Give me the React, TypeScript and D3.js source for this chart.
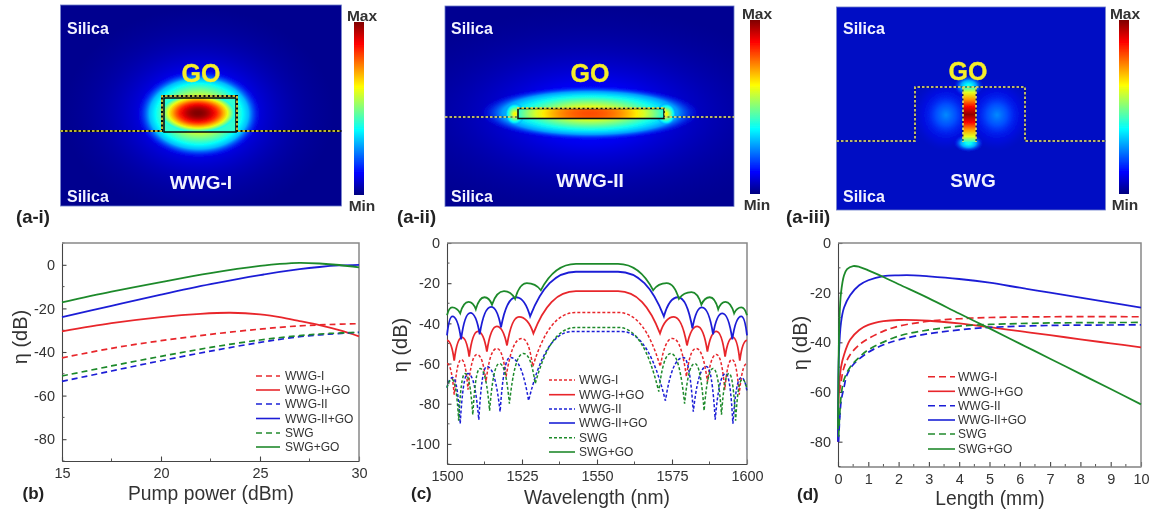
import React, { useEffect, useRef } from "react";
import * as d3 from "d3";

type Pt = [number, number];

const seriesNames = ["WWG-I", "WWG-I+GO", "WWG-II", "WWG-II+GO", "SWG", "SWG+GO"];
const seriesColors = ["#e8262c", "#e8262c", "#1c1fd6", "#1c1fd6", "#1f8a2c", "#1f8a2c"];

// (b) pump power sweep
const pumpWwg1: Pt[] = [[15, -42.7], [17.5, -38.3], [20, -34.8], [22.5, -31.9], [25, -29.5], [27, -28], [28.5, -27.4], [30, -27]];
const pumpWwg1Go: Pt[] = [[15, -30.5], [17.5, -26.8], [20, -24], [22, -22.5], [23.5, -22], [25, -22.7], [26, -24], [27, -25.8], [28, -27.7], [29, -30], [30, -32.8]];
const pumpWwg2: Pt[] = [[15, -53.5], [17.5, -48.7], [20, -44], [22.5, -39.6], [25, -35.6], [27, -33], [28.5, -31.8], [30, -31]];
const pumpWwg2Go: Pt[] = [[15, -24], [17.5, -18.8], [20, -13.7], [22.5, -8.9], [25, -4.7], [27, -2], [28, -1], [29, -0.3], [30, 0]];
const pumpSwg: Pt[] = [[15, -51], [17.5, -46.4], [20, -42], [22.5, -37.9], [25, -34.5], [27, -32.5], [28.5, -31.5], [30, -31]];
const pumpSwgGo: Pt[] = [[15, -17.2], [17.5, -12.3], [20, -7.9], [22.5, -3.8], [25, -0.5], [26, 0.4], [27, 0.9], [28, 0.6], [29, -0.1], [30, -1.2]];

// (c) wavelength sweep: nulls and lobe tops
const waveWwg1: Pt[] = [[1500, -60], [1502.4, -75.5], [1504.8, -58], [1507, -73], [1510, -55.5], [1513, -69], [1516.6, -52.5], [1519.7, -66.5], [1525, -47.5], [1528.6, -61.5], [1543, -34.6], [1557, -34.6], [1571.1, -61.5], [1575.2, -47.5], [1579.8, -66.5], [1583, -52.5], [1586.8, -69], [1589.8, -55.5], [1592.6, -73], [1595, -58], [1597.4, -75.5], [1600, -60]];
const waveWwg1Go: Pt[] = [[1500, -48.5], [1502.4, -58.5], [1505, -47], [1507.4, -56.5], [1510.3, -44], [1513.3, -54], [1516.6, -41.5], [1520, -51], [1524, -36.8], [1528.8, -45], [1543, -24], [1557, -24], [1571, -45], [1575.6, -36.8], [1580, -51], [1583.4, -41.5], [1586.8, -54], [1589.8, -44], [1592.7, -56.5], [1595.3, -47], [1597.6, -58.5], [1600, -48.5]];
const waveWwg2: Pt[] = [[1500, -72], [1501.9, -67], [1504.4, -90], [1507, -65], [1510.6, -88], [1513.3, -61.5], [1517.7, -84], [1521, -57], [1527.2, -78.5], [1542, -44], [1558, -44], [1572.8, -78.5], [1578.8, -57], [1582.1, -84], [1586.5, -61.5], [1589.4, -88], [1592.9, -65], [1595.3, -90], [1598.1, -67], [1600, -74]];
const waveWwg2Go: Pt[] = [[1500, -46], [1501.8, -36.5], [1504.7, -48], [1507.8, -34.8], [1510.9, -45.5], [1514.7, -31.8], [1518, -42], [1523, -27], [1527.7, -36.5], [1543, -14.3], [1557, -14.3], [1572.3, -36.5], [1577, -27], [1581.8, -42.5], [1585, -32], [1588.7, -45.5], [1591.8, -35], [1595.1, -48], [1598.1, -36.5], [1600, -46]];
const waveSwg: Pt[] = [[1500, -72], [1501.7, -68], [1503.9, -88.5], [1506, -65], [1508.6, -85.5], [1511, -62.5], [1514.2, -83.5], [1517.5, -60], [1520.8, -80], [1525.5, -55], [1529.4, -70], [1543, -42], [1557, -42], [1570.6, -74], [1574.6, -55], [1579.2, -80], [1582.6, -60], [1585.7, -83.5], [1588.7, -62.5], [1591.5, -85.5], [1594, -65], [1596.2, -88.5], [1598.4, -68], [1600, -73]];
const waveSwgGo: Pt[] = [[1500, -36], [1501.7, -32], [1504.4, -35], [1507.2, -29.3], [1509.6, -33], [1512.5, -27], [1515, -30.7], [1519, -24], [1522.7, -27.8], [1526.6, -20], [1531.3, -23.5], [1543, -10.4], [1557, -10.4], [1568.7, -23.5], [1573.2, -20], [1577.3, -27.8], [1581.5, -24.5], [1584.8, -30.7], [1587.6, -27], [1590.4, -33], [1592.8, -29.3], [1595.7, -35], [1598.1, -32], [1600, -36]];

// (d) length sweep
const lenWwg1: Pt[] = [[0.05, -60], [0.1, -56], [0.2, -50], [0.4, -45], [0.7, -41], [1, -38.5], [1.5, -35.5], [2, -33.5], [3, -31.5], [4, -30.5], [5, -30], [7, -29.7], [10, -29.7]];
const lenWwg1Go: Pt[] = [[0, -80], [0.03, -60], [0.1, -50], [0.2, -45], [0.4, -39], [0.7, -35], [1, -33], [1.5, -31.5], [2, -31], [3, -31.3], [4, -32.4], [5, -33.9], [6, -35.5], [7, -37.1], [8, -38.8], [9, -40.4], [10, -42]];
const lenWwg2: Pt[] = [[0.02, -80], [0.1, -64], [0.2, -58], [0.3, -53], [0.5, -49], [1, -44], [1.5, -41], [2, -39], [3, -36.5], [4, -35], [5, -34], [7, -33.2], [10, -33]];
const lenWwg2Go: Pt[] = [[0, -80], [0.03, -45], [0.1, -32], [0.2, -26], [0.4, -21], [0.7, -17], [1, -15], [1.5, -13.3], [2, -13], [2.5, -13], [3, -13.4], [4, -14.5], [5, -16], [6, -18], [7, -20], [8, -22], [9, -24], [10, -26]];
const lenSwg: Pt[] = [[0.02, -78], [0.1, -62], [0.2, -55], [0.4, -50], [0.7, -46], [1, -43], [2, -37.5], [3, -35], [4, -33.5], [5, -32.8], [7, -32.2], [10, -32]];
const lenSwgGo: Pt[] = [[0, -75], [0.05, -30], [0.1, -20], [0.2, -13], [0.3, -10.5], [0.5, -9.3], [0.7, -9.6], [1, -11], [1.5, -13.7], [2, -16.6], [3, -22.3], [4, -28.4], [5, -34.4], [6, -40.5], [7, -46.6], [8, -52.7], [9, -58.8], [10, -65]];

const xTicksB = [15, 20, 25, 30];
const yTicksB = [0, -20, -40, -60, -80];
const xTicksC = [1500, 1525, 1550, 1575, 1600];
const yTicksC = [0, -20, -40, -60, -80, -100];
const xTicksD = [0, 1, 2, 3, 4, 5, 6, 7, 8, 9, 10];
const yTicksD = [0, -20, -40, -60, -80];

const jetStops = [0, 0.125, 0.375, 0.625, 0.875, 1];
const jetColors = ["#00007f", "#0000ff", "#00ffff", "#ffff00", "#ff0000", "#7f0000"];

const jet = d3.scaleLinear<string>().domain(jetStops).range(jetColors).interpolate(d3.interpolateRgb);
const FONT = "'Liberation Sans', Arial, sans-serif";
const INK = "#333";

// steep flanks at the nulls, round lobe tops
function lobePath(pts: Pt[], x: (v: number) => number, y: (v: number) => number) {
  const p = d3.path();
  pts.forEach((pt, i) => {
    const x1 = x(pt[0]), y1 = y(pt[1]);
    if (i === 0) { p.moveTo(x1, y1); return; }
    const x0 = x(pts[i - 1][0]), y0 = y(pts[i - 1][1]);
    const dx = x1 - x0, dy = y1 - y0;
    if (dy < 0) p.bezierCurveTo(x0 + 0.25 * dx, y0 + 0.65 * dy, x0 + 0.55 * dx, y1, x1, y1);
    else if (dy > 0) p.bezierCurveTo(x0 + 0.45 * dx, y0, x0 + 0.75 * dx, y0 + 0.35 * dy, x1, y1);
    else p.lineTo(x1, y1);
  });
  return p.toString();
}

function Frame({ x, y, xTicks, yTicks, xMinor, yMinor, xLabelGap, fmt }: any) {
  const ref = useRef<SVGGElement>(null);
  useEffect(() => {
    const g = d3.select(ref.current);
    g.selectAll("*").remove();
    const [x0, x1] = x.range();
    const [y1, y0] = y.range();
    const bottom = g.append("g").attr("transform", `translate(0,${y1})`);
    bottom.call(d3.axisBottom(x).tickValues(xTicks).tickSizeInner(-4.5).tickSizeOuter(0).tickPadding(xLabelGap).tickFormat(fmt));
    const left = g.append("g").attr("transform", `translate(${x0},0)`);
    left.call(d3.axisLeft(y).tickValues(yTicks).tickSizeInner(-4.5).tickSizeOuter(0).tickPadding(7).tickFormat(fmt));
    g.selectAll(".tick text").attr("font-family", FONT).attr("font-size", 14.5).attr("fill", INK);
    g.selectAll("path.domain, .tick line").attr("stroke", "#444").attr("stroke-width", 1.1);
    g.append("g").selectAll("line").data(xMinor).join("line")
      .attr("x1", (d: any) => x(d)).attr("x2", (d: any) => x(d)).attr("y1", y1).attr("y2", y1 - 2.5)
      .attr("stroke", "#555");
    g.append("g").selectAll("line").data(yMinor).join("line")
      .attr("x1", x0).attr("x2", x0 + 2.5).attr("y1", (d: any) => y(d)).attr("y2", (d: any) => y(d))
      .attr("stroke", "#555");
    g.append("path").attr("d", `M${x0},${y0}H${x1}V${y1}`).attr("fill", "none").attr("stroke", "#888").attr("stroke-width", 1.5);
  }, []);
  return <g ref={ref} />;
}

function Legend({ lineX0, lineX1, textX, ys, dash }: any) {
  return (
    <g fontFamily={FONT} fontSize={12} fill={INK}>
      {seriesNames.map((name, i) => (
        <g key={name}>
          <line x1={lineX0} x2={lineX1} y1={ys[i]} y2={ys[i]} stroke={seriesColors[i]} strokeWidth={1.6}
            strokeDasharray={name.includes("GO") ? undefined : dash} />
          <text x={textX} y={ys[i]} dy="0.36em">{name}</text>
        </g>
      ))}
    </g>
  );
}

function Curves({ data, path, dash, width }: any) {
  return (
    <g fill="none">
      {data.map((pts: Pt[], i: number) => (
        <path key={i} d={path(pts)} stroke={seriesColors[i]} strokeWidth={seriesNames[i].includes("GO") ? 1.8 : width}
          strokeDasharray={seriesNames[i].includes("GO") ? undefined : dash} />
      ))}
    </g>
  );
}

// radial glow whose colour follows the jet map from peak down to floor
function Glow({ id, cx, cy, rx, ry, peak, floor, clip, power = 1.6, dome = false, fade = 0.8 }: any) {
  const offsets = d3.range(0, 1.001, 0.1);
  const shape = (t: number) => (dome ? 1 - t * t : Math.pow(1 - t, power));
  return (
    <g clipPath={clip ? `url(#${clip})` : undefined}>
      <defs>
        <radialGradient id={id}>
          {offsets.map(t => (
            <stop key={t} offset={t} stopColor={jet(floor + (peak - floor) * shape(t))} stopOpacity={t > fade ? (1 - t) / (1 - fade) : 1} />
          ))}
        </radialGradient>
      </defs>
      <ellipse cx={cx} cy={cy} rx={rx} ry={ry} fill={`url(#${id})`} />
    </g>
  );
}

function Colorbar({ id, x, y0, y1, labelX }: any) {
  return (
    <g>
      <defs>
        <linearGradient id={id} x1="0" x2="0" y1="1" y2="0">
          {jetStops.map((s, i) => <stop key={s} offset={s} stopColor={jetColors[i]} />)}
        </linearGradient>
      </defs>
      <rect x={x} y={y0} width={10} height={y1 - y0} fill={`url(#${id})`} />
      <text x={labelX} y={y0 - 7} dy="0.36em" textAnchor="middle" fontFamily={FONT} fontWeight="bold" fontSize={15.5} fill={INK}>Max</text>
      <text x={labelX} y={y1 + 10} dy="0.36em" textAnchor="middle" fontFamily={FONT} fontWeight="bold" fontSize={15.5} fill={INK}>Min</text>
    </g>
  );
}

function MapLabels({ x, cx, goX, goY, name, nameY, top = 28, low = 196 }: any) {
  return (
    <g fontFamily={FONT} fontWeight="bold" fill="#f2f2ff">
      <text x={x} y={top} dy="0.36em" fontSize={16}>Silica</text>
      <text x={x} y={low} dy="0.36em" fontSize={16}>Silica</text>
      <text x={cx} y={nameY} dy="0.36em" fontSize={19} textAnchor="middle">{name}</text>
      <text x={goX} y={goY} dy="0.36em" fontSize={25} textAnchor="middle" fill="#f5ee2a" stroke="#f5ee2a" strokeWidth={0.3}>GO</text>
    </g>
  );
}

function Edge({ d, thin }: any) {
  return (
    <g fill="none">
      <path d={d} stroke="#111" strokeWidth={thin ? 0.8 : 2} />
      <path d={d} stroke={thin ? "#f8f26a" : "#f5ee40"} strokeWidth={thin ? 1.5 : 1.5} strokeDasharray="2.5 2" />
    </g>
  );
}

export default function App() {
  const xB = d3.scaleLinear().domain([15, 30]).range([62, 359]);
  const yB = d3.scaleLinear().domain([-90, 10]).range([461, 243]);
  const xC = d3.scaleLinear().domain([1500, 1600]).range([447, 747]);
  const yC = d3.scaleLinear().domain([-110, 0]).range([464, 243]);
  const xD = d3.scaleLinear().domain([0, 10]).range([838, 1141]);
  const yD = d3.scaleLinear().domain([-90, 0]).range([466.5, 243]);

  const lineB = d3.line<Pt>().x(d => xB(d[0])).y(d => yB(d[1])).curve(d3.curveCatmullRom.alpha(0.5));
  const lineD = d3.line<Pt>().x(d => xD(d[0])).y(d => yD(d[1])).curve(d3.curveCatmullRom.alpha(0.5));
  const pathC = (pts: Pt[]) => lobePath(pts, xC, yC);

  const plain = (d: any) => String(d);

  return (
    <svg width={1153} height={512} style={{ position: "absolute", left: 0, top: 0, background: "#fff" }}>
      <defs>
        <filter id="soft" x="-2%" y="-2%" width="104%" height="104%"><feGaussianBlur stdDeviation="0.55" /></filter>
        <clipPath id="mapA"><rect x={60.5} y={5} width={281} height={201} /></clipPath>
        <clipPath id="mapB"><rect x={445} y={6} width={289} height={200.5} /></clipPath>
        <clipPath id="mapC"><rect x={836.5} y={7} width={269} height={203} /></clipPath>
        <clipPath id="coreA"><rect x={164} y={98} width={72} height={34} /></clipPath>
        <clipPath id="coreB"><rect x={518} y={109} width={146} height={9} /></clipPath>
        <linearGradient id="slotFill" x1="0" x2="0" y1="0" y2="1">
          {[[0, 0.42], [0.1, 0.6], [0.22, 0.72], [0.36, 0.88], [0.5, 0.98], [0.64, 0.88], [0.78, 0.72], [0.9, 0.6], [1, 0.42]].map(([o, v]) => (
            <stop key={o} offset={o} stopColor={jet(v)} />
          ))}
        </linearGradient>
      </defs>

      <g filter="url(#soft)">
        {/* (a-i) */}
        <g clipPath="url(#mapA)">
          <rect x={60.5} y={5} width={281} height={201} fill="#00008f" />
          <Glow id="a1far" cx={199} cy={113} rx={135} ry={105} peak={0.2} floor={0.05} power={1.8} fade={0.35} />
          <Glow id="a1near" cx={199} cy={114} rx={62} ry={44} peak={0.85} floor={0.14} power={0.9} />
          <rect x={164} y={98} width={72} height={34} fill={jet(0.42)} />
          <Glow id="a1core" cx={198} cy={113} rx={37} ry={19} peak={1} floor={0.38} dome clip="coreA" fade={1} />
        </g>
        <rect x={60.5} y={5} width={281} height={201} fill="none" stroke="#6a78c8" strokeWidth={0.8} />
        <rect x={164} y={98} width={72} height={34} fill="none" stroke="#111" strokeWidth={1.6} />
        <Edge d="M60.5,131H162V96H237V131H341.5" />
        <MapLabels x={67} cx={201} goX={201} goY={73} name="WWG-I" nameY={182} />
        <Colorbar id="barA" x={354} y0={22} y1={195} labelX={362} />

        {/* (a-ii) */}
        <g clipPath="url(#mapB)">
          <rect x={445} y={6} width={289} height={200.5} fill="#000092" />
          <Glow id="a2far" cx={590} cy={113} rx={210} ry={105} peak={0.17} floor={0.05} power={1.5} fade={0.2} />
          <Glow id="a2near" cx={590} cy={113} rx={110} ry={27} peak={0.72} floor={0.14} power={0.9} />
          <Glow id="a2endL" cx={515} cy={114} rx={10} ry={11} peak={0.66} floor={0.25} power={0.9} />
          <Glow id="a2endR" cx={666} cy={114} rx={10} ry={11} peak={0.66} floor={0.25} power={0.9} />
          <rect x={518} y={109} width={146} height={9} fill={jet(0.38)} />
          <Glow id="a2core" cx={590} cy={113.5} rx={78} ry={22} peak={0.8} floor={0.36} dome clip="coreB" fade={1} />
        </g>
        <rect x={445} y={6} width={289} height={200.5} fill="none" stroke="#6a78c8" strokeWidth={0.8} />
        <Edge d="M445,117H517M665,117H734" thin />
        <rect x={518} y={108.5} width={146} height={10} fill="none" stroke="#111" strokeWidth={1.6} />
        <path d="M517,108H665V118" fill="none" stroke="#f5ee40" strokeWidth={1.3} strokeDasharray="2.5 2" />
        <MapLabels x={451} cx={590} goX={590} goY={73} name="WWG-II" nameY={180} />
        <Colorbar id="barB" x={750} y0={20} y1={194} labelX={757} />

        {/* (a-iii) */}
        <g clipPath="url(#mapC)">
          <rect x={836.5} y={7} width={269} height={203} fill="#0410c4" />
          <Glow id="a3L" cx={946} cy={115} rx={34} ry={36} peak={0.26} floor={0.1} power={1.3} fade={0.3} />
          <Glow id="a3R" cx={997} cy={115} rx={34} ry={36} peak={0.26} floor={0.1} power={1.3} fade={0.3} />
          <Glow id="a3top" cx={968.5} cy={86} rx={15} ry={11} peak={0.42} floor={0.14} power={0.9} fade={0.5} />
          <Glow id="a3low" cx={968.5} cy={143} rx={15} ry={9} peak={0.42} floor={0.14} power={0.9} fade={0.5} />
          <rect x={963} y={87} width={13} height={55} fill="url(#slotFill)" />
        </g>
        <rect x={836.5} y={7} width={269} height={203} fill="none" stroke="#6a78c8" strokeWidth={0.8} />
        <Edge d="M836.5,141H915V87H1025V141H1105.5" thin />
        <Edge d="M963,87V142M976,87V142" thin />
        <MapLabels x={843} cx={973} goX={968} goY={71} name="SWG" nameY={180} />
        <Colorbar id="barC" x={1119} y0={20} y1={194} labelX={1125} />

        {/* panel tags */}
        <g fontFamily={FONT} fontWeight="bold" fill="#222">
          <g fontSize={18.5}>
            <text x={16} y={216} dy="0.36em">(a-i)</text>
            <text x={397} y={216} dy="0.36em">(a-ii)</text>
            <text x={786} y={216} dy="0.36em">(a-iii)</text>
          </g>
          <g fontSize={17}>
            <text x={22.5} y={493} dy="0.36em">(b)</text>
            <text x={411} y={493} dy="0.36em">(c)</text>
            <text x={797} y={494} dy="0.36em">(d)</text>
          </g>
        </g>

        {/* (b) */}
        <Frame x={xB} y={yB} xTicks={xTicksB} yTicks={yTicksB} xMinor={[17.5, 22.5, 27.5]} yMinor={[-90, -70, -50, -30, -10, 10]} xLabelGap={7} fmt={plain} />
        <Curves data={[pumpWwg1, pumpWwg1Go, pumpWwg2, pumpWwg2Go, pumpSwg, pumpSwgGo]} path={lineB} dash="6 4" width={1.7} />
        <Legend lineX0={256} lineX1={280} textX={285} ys={[376, 390, 404, 418.5, 433, 447]} dash="6 4" />

        {/* (c) */}
        <Frame x={xC} y={yC} xTicks={xTicksC} yTicks={yTicksC} xMinor={[1512.5, 1537.5, 1562.5, 1587.5]} yMinor={[-110, -90, -70, -50, -30, -10]} xLabelGap={7} fmt={plain} />
        <Curves data={[waveWwg1, waveWwg1Go, waveWwg2, waveWwg2Go, waveSwg, waveSwgGo]} path={pathC} dash="3 2" width={1.5} />
        <Legend lineX0={549} lineX1={575} textX={579} ys={[380, 394.7, 409, 423, 437.7, 452]} dash="3 2" />

        {/* (d) */}
        <Frame x={xD} y={yD} xTicks={xTicksD} yTicks={yTicksD} xMinor={d3.range(0.5, 10, 1)} yMinor={[-90, -70, -50, -30, -10]} xLabelGap={7} fmt={plain} />
        <Curves data={[lenWwg1, lenWwg1Go, lenWwg2, lenWwg2Go, lenSwg, lenSwgGo]} path={lineD} dash="7 4" width={1.7} />
        <Legend lineX0={928} lineX1={955} textX={958} ys={[376.7, 391.3, 405.7, 420, 434, 449]} dash="7 4" />

        {/* axis titles */}
        <g fontFamily={FONT} fill={INK} textAnchor="middle">
          <g fontSize={19.3}>
            <text x={211} y={493} dy="0.36em">Pump power (dBm)</text>
            <text x={597} y={497} dy="0.36em">Wavelength (nm)</text>
            <text x={990} y={498} dy="0.36em">Length (mm)</text>
          </g>
          <g fontSize={20}>
            <text transform="translate(20,337) rotate(-90)" dy="0.36em">η (dB)</text>
            <text transform="translate(400,345) rotate(-90)" dy="0.36em">η (dB)</text>
            <text transform="translate(800,343) rotate(-90)" dy="0.36em">η (dB)</text>
          </g>
        </g>
      </g>
    </svg>
  );
}
